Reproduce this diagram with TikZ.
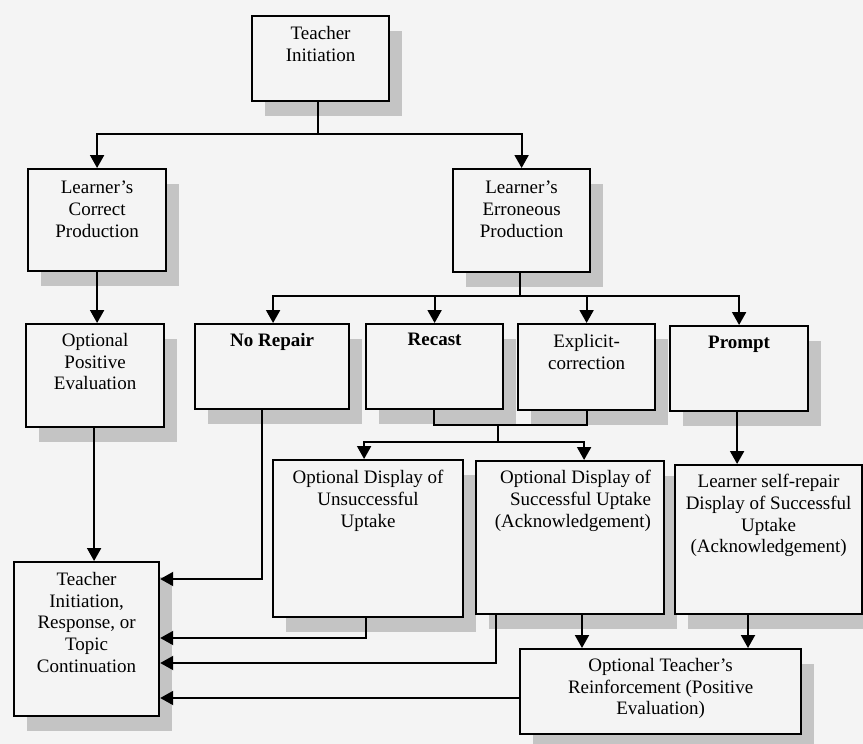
\documentclass[tikz,border=0pt]{standalone}
\usepackage{fontspec}
\setmainfont{Liberation Serif}
\usetikzlibrary{arrows.meta,shadows,calc}
\definecolor{bgc}{HTML}{F4F4F4}
\definecolor{shc}{HTML}{C4C4C4}
\tikzset{
  box/.style={draw=black, line width=2.2pt, fill=bgc, rectangle, inner sep=0pt, anchor=north west,
    drop shadow={shadow xshift=13pt, shadow yshift=-15pt, fill=shc, opacity=1}},
  txt/.style={anchor=north, inner sep=0pt, align=center, font=\fontsize{19}{21.8}\selectfont},
  btxt/.style={txt, font=\fontsize{19}{21.8}\selectfont\bfseries},
  conn/.style={draw=black, line width=2pt},
  arr/.style={conn, -{Triangle[width=14pt,length=13pt]}}
}
\begin{document}
\begin{tikzpicture}[x=1pt,y=-1pt]
\useasboundingbox[fill=bgc] (0,0) rectangle (863,744);
% boxes
\node[box, minimum width=137pt, minimum height=85pt] (ti) at (251,15) {};
\node[box, minimum width=138pt, minimum height=102pt] (lc) at (27,168) {};
\node[box, minimum width=137pt, minimum height=103pt] (le) at (452,168) {};
\node[box, minimum width=138pt, minimum height=103pt] (ope) at (25,323) {};
\node[box, minimum width=154pt, minimum height=85pt] (nr) at (194,323) {};
\node[box, minimum width=137pt, minimum height=85pt] (rc) at (365,323) {};
\node[box, minimum width=137pt, minimum height=86pt] (ec) at (517,323) {};
\node[box, minimum width=138pt, minimum height=85pt] (pr) at (669,325) {};
\node[box, minimum width=190pt, minimum height=157pt] (un) at (272,459) {};
\node[box, minimum width=188pt, minimum height=153pt] (su) at (475,460) {};
\node[box, minimum width=187pt, minimum height=149pt] (sr) at (674,464) {};
\node[box, minimum width=145pt, minimum height=154pt] (tir) at (13,561) {};
\node[box, minimum width=281pt, minimum height=85pt] (otr) at (519,648) {};
% texts
\node[txt] (tit) at ([yshift=-11pt]ti.north) {Teacher\\Initiation};
\node[txt] (lct) at ([yshift=-13pt]lc.north) {Learner’s\\Correct\\Production};
\node[txt] (let) at ([yshift=-13pt]le.north) {Learner’s\\Erroneous\\Production};
\node[txt] (opet) at ([yshift=-10pt]ope.north) {Optional\\Positive\\Evaluation};
\node[btxt] (nrt) at ([yshift=-10pt]nr.north) {No Repair};
\node[btxt] (rct) at ([yshift=-10pt]rc.north) {Recast};
\node[txt] (ect) at ([yshift=-11pt]ec.north) {Explicit-\\correction};
\node[btxt] (prt) at ([yshift=-11pt]pr.north) {Prompt};
\node[txt] (unt) at ([yshift=-11pt]un.north) {Optional Display of\\Unsuccessful\\Uptake};
\node[txt, anchor=north east, align=right] (sut) at ([xshift=-14pt,yshift=-10pt]su.north east) {Optional Display of\\Successful Uptake\\(Acknowledgement)};
\node[txt] (srt) at ([yshift=-10pt]sr.north) {Learner self-repair\\Display of Successful\\Uptake\\(Acknowledgement)};
\node[txt] (tirt) at ([yshift=-11pt]tir.north) {Teacher\\Initiation,\\Response, or\\Topic\\Continuation};
\node[txt] (otrt) at ([yshift=-10pt]otr.north) {Optional Teacher’s\\Reinforcement (Positive\\Evaluation)};
% junctions
\coordinate (j1) at (318,134);
\coordinate (j2) at (520,296);
\coordinate (j3) at (498,425);
\coordinate (j4) at (498,442);
\coordinate (nrb) at ($(nr.south west)+(68,0)$);
\coordinate (unb) at ($(un.south west)+(94,0)$);
\coordinate (sub1) at ($(su.south west)+(21,0)$);
\coordinate (sub2) at ($(su.south west)+(107,0)$);
\coordinate (srb) at ($(sr.south west)+(74,0)$);
\coordinate (otrw) at ($(otr.north west)+(0,50)$);
\coordinate (prb) at ([xshift=-2pt]pr.south);
\coordinate (opeb) at ([xshift=-1pt]ope.south);
% connectors
\draw[conn] (ti.south -| j1) -- (j1);
\draw[arr] (j1) -| (lc.north);
\draw[arr] (j1) -| (le.north);
\draw[arr] (lc.south) -- (lc.south |- ope.north);
\draw[conn] (le.south -| j2) -- (j2);
\draw[arr] (j2) -| ([xshift=1pt]nr.north);
\draw[arr] (j2) -| (rc.north);
\draw[arr] (j2) -| (ec.north);
\draw[arr] (j2) -| (pr.north);
\draw[conn] ([xshift=-1pt]rc.south) |- (j3) -| (ec.south);
\draw[conn] (j3) -- (j4);
\draw[arr] (j4) -| ([xshift=-4pt]un.north);
\draw[arr] (j4) -| ([xshift=14pt]su.north);
\draw[arr] (prb) -- (prb |- sr.north);
\draw[arr] (opeb) -- (opeb |- tir.north);
\draw[arr] (nrb) |- ($(tir.north east)+(0,18)$);
\draw[arr] (unb) |- ($(tir.north east)+(0,77)$);
\draw[arr] (sub1) |- ($(tir.north east)+(0,102)$);
\draw[arr] (sub2) -- (sub2 |- otr.north);
\draw[arr] (srb) -- (srb |- otr.north);
\draw[arr] (otrw) -- (otrw -| tir.east);
\end{tikzpicture}
\end{document}
